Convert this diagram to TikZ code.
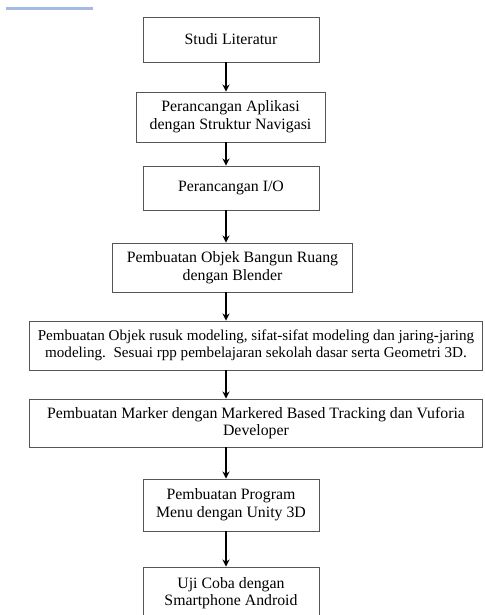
\documentclass[tikz,border=0pt]{standalone}
\usepackage{fontspec}
\setmainfont{Liberation Serif}
\usetikzlibrary{positioning,arrows.meta}
\definecolor{boxgray}{RGB}{85,85,85}
\definecolor{stripblue}{RGB}{165,185,230}

\tikzset{
  stepbox/.style={draw=boxgray,line width=0.55pt,align=center,inner sep=1pt,
                  font=\fontsize{9}{10}\selectfont},
  flow/.style={line width=0.9pt,-{Stealth[length=4pt,width=4pt]}}
}

\begin{document}
\begin{tikzpicture}[x=0.02cm,y=-0.02cm]
        \useasboundingbox (0,0) rectangle (484,615);
        \draw[stripblue,line width=1.4pt] (6,8.5) -- (93,8.5);
        \coordinate (axis) at (226,0);

        \node[stepbox,minimum width=3.52cm,minimum height=0.9cm] (studi) at (231,39.5)
          {Studi Literatur};
        \node[stepbox,minimum width=3.78cm,minimum height=1.0cm] (aplikasi) at (230.5,117)
          {Perancangan Aplikasi\\dengan Struktur Navigasi};
        \node[stepbox,minimum width=3.52cm,minimum height=0.88cm] (io) at (231,188)
          {Perancangan I/O};
        \node[stepbox,minimum width=4.82cm,minimum height=0.98cm] (blender) at (232.5,267.5)
          {Pembuatan Objek Bangun Ruang\\dengan Blender};
        \node[stepbox,minimum width=9.08cm,minimum height=0.98cm,
              font=\fontsize{8.6}{10}\selectfont] (rusuk) at (256,345.5)
          {Pembuatan Objek rusuk modeling, sifat-sifat modeling dan jaring-jaring\\
           modeling.\ \ Sesuai rpp pembelajaran sekolah dasar serta Geometri 3D.};
        \node[stepbox,minimum width=9.08cm,minimum height=0.96cm] (marker) at (256,423)
          {Pembuatan Marker dengan Markered Based Tracking dan Vuforia\\Developer};
        \node[stepbox,minimum width=3.52cm,minimum height=1.04cm] (unity) at (231,505)
          {Pembuatan Program\\Menu dengan Unity 3D};
        \node[stepbox,minimum width=3.52cm,minimum height=1.04cm] (uji) at (231,593)
          {Uji Coba dengan\\Smartphone Android};

        \draw[flow] (studi.south -| axis) -- (aplikasi.north -| axis);
        \draw[flow] (aplikasi.south -| axis) -- (io.north -| axis);
        \draw[flow] (io.south -| axis) -- (blender.north -| axis);
        \draw[flow] (blender.south -| axis) -- (rusuk.north -| axis);
        \draw[flow] (rusuk.south -| axis) -- (marker.north -| axis);
        \draw[flow] (marker.south -| axis) -- (unity.north -| axis);
        \draw[flow] (unity.south -| axis) -- (uji.north -| axis);
      \end{tikzpicture}
\end{document}
